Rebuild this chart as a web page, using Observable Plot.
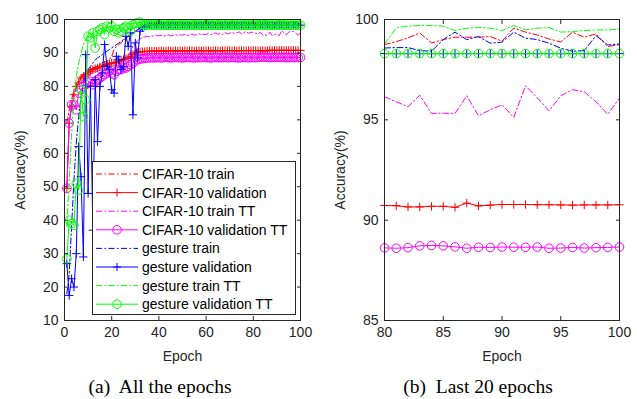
<!DOCTYPE html>
<html><head><meta charset="utf-8">
<script src="https://cdn.jsdelivr.net/npm/d3@7"></script>
<script src="https://cdn.jsdelivr.net/npm/@observablehq/plot@0.6"></script>
<style>
body{margin:0;background:#fff;}
#wrap{position:relative;width:637px;height:399px;overflow:hidden;background:#fff;font-family:"Liberation Sans",Arial,sans-serif;}
.panel{position:absolute;top:0;}
.cap{position:absolute;top:376px;line-height:21px;font-family:"Liberation Serif","Times New Roman",serif;font-size:19.5px;color:#000;white-space:pre;transform:translateX(-50%);}
#legend{position:absolute;left:92px;top:161px;}
</style></head><body>
<div id="wrap"></div>
<script>
// ---- data ----
const epochs = d3.range(1, 101);
const cifarTrain = [
 69, 73, 76, 79, 81, 82, 83, 83.5, 84, 84.5,
 85, 85.5, 85.8, 86, 86.5, 87, 87.3, 87.5, 88, 89,
 91, 92, 92.5, 93, 93.8, 94.5, 95, 95.5, 96, 96.5,
 97, 97.5, 98, 98.2, 98.4, 98.5, 98.6, 98.7, 98.8, 98.8,
 98.9, 99.0, 98.8, 99.1, 99.0, 98.9, 99.2, 99.0, 98.9, 99.1,
 99.0, 99.2, 98.9, 99.0, 99.1, 98.8, 99.0, 99.2, 99.1, 98.9,
 99.0, 99.1, 99.3, 99.0, 98.9, 99.1, 99.0, 99.2, 98.9, 99.1,
 99.0, 99.2, 99.1, 98.9, 99.0, 99.3, 99.1, 99.0, 98.9, 98.75,
 98.9, 99.08, 99.33, 98.83, 99.0, 99.12, 99.12, 99.12, 99.15, 98.92,
 99.58, 99.37, 99.23, 99.03, 98.88, 99.37, 99.12, 99.28, 98.65, 98.75];
const cifarVal = [
 49.5, 69, 74, 77.5, 80, 81, 82.5, 83, 83.5, 84,
 84.5, 85, 85.3, 85.5, 85.8, 86, 86.3, 86.5, 86.8, 87,
 87, 87.2, 87.5, 87.8, 88, 88.3, 88.6, 89, 89.5, 90,
 90.2, 90.3, 90.4, 90.4, 90.5, 90.5, 90.5, 90.6, 90.5, 90.6,
 90.6, 90.5, 90.6, 90.7, 90.6, 90.6, 90.7, 90.6, 90.7, 90.6,
 90.7, 90.6, 90.7, 90.7, 90.6, 90.7, 90.7, 90.6, 90.7, 90.7,
 90.7, 90.6, 90.7, 90.7, 90.7, 90.6, 90.7, 90.7, 90.7, 90.7,
 90.7, 90.7, 90.6, 90.7, 90.7, 90.7, 90.7, 90.7, 90.7, 90.73,
 90.72, 90.66, 90.66, 90.69, 90.69, 90.64, 90.85, 90.71, 90.75, 90.78,
 90.78, 90.78, 90.77, 90.77, 90.76, 90.75, 90.76, 90.76, 90.76, 90.77];
const cifarTrainTT = [
 50, 70, 74, 77, 79, 80.5, 81.5, 82, 82.5, 83,
 83.5, 84, 84.3, 84.5, 84.8, 85, 85.3, 85.5, 85.8, 86,
 86.2, 86.5, 86.8, 87, 87.5, 88, 89, 90.5, 92, 93,
 93.8, 94.3, 94.6, 94.8, 95, 94.9, 95.1, 95.0, 95.2, 95.1,
 95.3, 95.0, 95.2, 95.4, 95.1, 95.3, 95.5, 95.2, 95.4, 95.3,
 95.6, 95.2, 95.4, 95.7, 95.3, 95.5, 95.8, 95.4, 95.6, 95.5,
 95.9, 95.5, 95.7, 96.0, 95.6, 95.8, 95.5, 96.1, 95.7, 95.9,
 96.2, 95.8, 96.0, 96.3, 95.7, 96.1, 96.4, 95.9, 96.2, 96.15,
 95.9, 95.65, 96.23, 95.32, 95.33, 95.32, 96.2, 95.2, 95.5, 95.75,
 95.12, 96.7, 96.1, 95.45, 96.2, 96.5, 96.4, 95.9, 95.28, 96.08];
const cifarValTT = [
 49.5, 69, 74.5, 74.5, 73, 78, 79, 80, 80.5, 81,
 81.5, 80.5, 81.5, 82, 82.5, 83, 83.5, 84, 84.5, 84,
 83.5, 84.5, 85, 85, 85.5, 85.5, 86, 86.5, 87, 87.5,
 88, 88.2, 88.3, 88.4, 88.5, 88.5, 88.6, 88.5, 88.6, 88.6,
 88.5, 88.6, 88.7, 88.6, 88.5, 88.6, 88.7, 88.6, 88.6, 88.5,
 88.6, 88.7, 88.6, 88.6, 88.5, 88.7, 88.6, 88.6, 88.7, 88.6,
 88.6, 88.5, 88.6, 88.7, 88.6, 88.6, 88.6, 88.7, 88.6, 88.6,
 88.7, 88.6, 88.6, 88.5, 88.6, 88.7, 88.6, 88.6, 88.6, 88.62,
 88.6, 88.63, 88.72, 88.74, 88.72, 88.67, 88.6, 88.65, 88.64, 88.66,
 88.65, 88.65, 88.66, 88.6, 88.61, 88.64, 88.61, 88.63, 88.64, 88.66];
const gestureTrain = [
 18, 24, 38, 52, 63, 71, 77, 81, 83.5, 85,
 86, 87, 88, 88.5, 89, 89.5, 90, 90.5, 91, 91.5,
 92, 92.5, 93, 93.5, 94, 94.5, 95, 95.5, 96, 96.5,
 97, 97.5, 98, 98.3, 98.5, 98.7, 98.8, 98.9, 99.0, 98.9,
 99.1, 98.9, 99.0, 99.2, 98.8, 99.0, 99.1, 98.9, 99.2, 99.0,
 98.8, 99.1, 99.0, 98.7, 99.2, 98.9, 99.0, 99.3, 98.8, 99.0,
 99.1, 98.8, 99.2, 99.0, 98.7, 99.1, 98.9, 99.0, 99.2, 98.8,
 99.0, 99.1, 98.7, 99.0, 99.2, 98.9, 98.8, 99.1, 98.9, 98.58,
 98.6, 98.6, 98.45, 98.42, 99.0, 99.37, 99.0, 99.15, 98.82, 98.87,
 99.37, 99.07, 99.0, 98.82, 98.57, 98.42, 98.45, 99.2, 98.73, 98.78];
const gestureVal = [
 27, 17.5, 22.5, 20, 30, 62, 53, 29, 89.5, 48,
 80, 37, 82, 63.5, 80, 84, 92.5, 86, 85, 79,
 78, 89, 88, 85, 86, 95, 92, 96, 71.5, 93,
 88.5, 96.5, 97.5, 98, 98.3, 98.3, 98.2, 98.3, 98.3, 98.3,
 98.3, 98.3, 98.3, 98.3, 98.3, 98.3, 98.3, 98.3, 98.3, 98.3,
 98.3, 98.3, 98.3, 98.3, 98.3, 98.3, 98.3, 98.3, 98.3, 98.3,
 98.3, 98.3, 98.3, 98.3, 98.3, 98.3, 98.3, 98.3, 98.3, 98.3,
 98.3, 98.3, 98.3, 98.3, 98.3, 98.3, 98.3, 98.3, 98.3, 98.3,
 98.3, 98.3, 98.3, 98.3, 98.3, 98.3, 98.3, 98.3, 98.3, 98.3,
 98.3, 98.3, 98.3, 98.3, 98.3, 98.3, 98.3, 98.3, 98.3, 98.3];
const gestureTrainTT = [
 38, 52, 66, 76, 83, 87, 90, 92.5, 94, 95,
 95.5, 96, 96.3, 96.6, 97, 97.2, 97.4, 97.6, 97.8, 98,
 98.1, 98.2, 98.3, 98.4, 98.5, 98.6, 98.7, 98.8, 98.9, 99,
 99.1, 99.2, 99.3, 99.3, 99.4, 99.4, 99.5, 99.4, 99.5, 99.5,
 99.6, 99.5, 99.4, 99.6, 99.5, 99.7, 99.5, 99.4, 99.6, 99.5,
 99.5, 99.6, 99.4, 99.5, 99.7, 99.5, 99.6, 99.4, 99.5, 99.6,
 99.5, 99.7, 99.5, 99.4, 99.6, 99.5, 99.6, 99.5, 99.7, 99.4,
 99.6, 99.5, 99.5, 99.6, 99.4, 99.6, 99.5, 99.7, 99.5, 98.78,
 99.58, 99.67, 99.7, 99.7, 99.67, 99.45, 99.57, 99.6, 99.57, 99.45,
 99.7, 99.48, 99.57, 99.6, 99.37, 99.4, 99.45, 99.48, 99.48, 99.52];
const gestureValTT = [
 28.5, 40, 39, 38.5, 51, 49, 79, 71, 76, 95,
 94.5, 96, 91.5, 96.5, 97, 97.5, 95.5, 98, 97.5, 98,
 96.5, 97, 96, 96.5, 97.5, 98, 97.5, 96.5, 98.5, 98.8,
 99, 99.2, 98.6, 98.3, 98.3, 98.5, 98.3, 98.3, 98.4, 98.3,
 98.3, 98.3, 98.3, 98.3, 98.3, 98.3, 98.3, 98.3, 98.3, 98.3,
 98.3, 98.3, 98.3, 98.3, 98.3, 98.3, 98.3, 98.3, 98.3, 98.3,
 98.3, 98.3, 98.3, 98.3, 98.3, 98.3, 98.3, 98.3, 98.3, 98.3,
 98.3, 98.3, 98.3, 98.3, 98.3, 98.3, 98.3, 98.3, 98.3, 98.3,
 98.3, 98.3, 98.3, 98.3, 98.3, 98.3, 98.3, 98.3, 98.3, 98.3,
 98.3, 98.3, 98.3, 98.3, 98.3, 98.3, 98.3, 98.3, 98.3, 98.3];

const seriesNames = ["CIFAR-10 train", "CIFAR-10 validation", "CIFAR-10 train TT", "CIFAR-10 validation TT",
  "gesture train", "gesture validation", "gesture train TT", "gesture validation TT"];
const seriesValues = [cifarTrain, cifarVal, cifarTrainTT, cifarValTT, gestureTrain, gestureVal, gestureTrainTT, gestureValTT];

const xTicksA = [0, 20, 40, 60, 80, 100];
const yTicksA = [10, 20, 30, 40, 50, 60, 70, 80, 90, 100];
const xTicksB = [80, 85, 90, 95, 100];
const yTicksB = [85, 90, 95, 100];
const captions = ["(a)  All the epochs", "(b)  Last 20 epochs"];

// ---- styles ----
const colors = ["#ff0000", "#ff0000", "#ff00ff", "#ff00ff", "#0000ff", "#0000ff", "#00ff00", "#00ff00"];
const DASHDOT = "6,2.5,1.5,2.5";
const dashes = [DASHDOT, null, DASHDOT, null, DASHDOT, null, DASHDOT, null];
const markers = [null, "plus", null, "circle", null, "plus", null, "circle"];

const series = seriesNames.map((name, k) => ({
  name, color: colors[k], dash: dashes[k], marker: markers[k],
  rows: epochs.map((e, i) => ({epoch: e, value: seriesValues[k][i]}))
}));

const AX = "#262626";
const FONT = '"Liberation Sans", Arial, Helvetica, sans-serif';

function panel({xTicks, yTicks, xDomain, yDomain, minEpoch, width, marginRight}) {
  const marks = [];
  for (const s of series) {
    const rows = s.rows.filter(d => d.epoch >= minEpoch);
    marks.push(Plot.line(rows, {x: "epoch", y: "value", stroke: s.color, strokeWidth: 1,
      strokeDasharray: s.dash, clip: true}));
    if (s.marker) {
      marks.push(Plot.dot(rows, {x: "epoch", y: "value", symbol: s.marker,
        r: s.marker === "plus" ? 2.8 : 4.3, stroke: s.color, fill: "none", strokeWidth: 1}));
    }
  }
  return Plot.plot({
    width, height: 365,
    marginLeft: 64, marginRight, marginTop: 19, marginBottom: 45,
    x: {domain: xDomain}, y: {domain: yDomain},
    style: {fontFamily: FONT, fontSize: "14px", color: AX, background: "white", overflow: "visible"},
    marks: [
      ...marks,
      Plot.frame({stroke: AX, strokeWidth: 1}),
      Plot.axisX(xTicks, {anchor: "bottom", tickSize: -4, tickFormat: () => "", label: null, stroke: AX}),
      Plot.axisX(xTicks, {anchor: "top", tickSize: -4, tickFormat: () => "", label: null, stroke: AX}),
      Plot.axisY(yTicks, {anchor: "left", tickSize: -4, tickFormat: () => "", label: null, stroke: AX}),
      Plot.axisY(yTicks, {anchor: "right", tickSize: -4, tickFormat: () => "", label: null, stroke: AX}),
      Plot.axisX(xTicks, {anchor: "bottom", tickSize: 0, tickPadding: 7, label: "Epoch",
        labelAnchor: "center", labelOffset: 40, labelArrow: "none", fill: AX}),
      Plot.axisY(yTicks, {anchor: "left", tickSize: 0, tickPadding: 6, label: "Accuracy(%)",
        labelAnchor: "center", labelOffset: 49, labelArrow: "none", fill: AX})
    ]
  });
}

const wrap = document.getElementById("wrap");
const pA = panel({xTicks: xTicksA, yTicks: yTicksA, xDomain: [0, 100], yDomain: [10, 100], minEpoch: 0, width: 320, marginRight: 20});
pA.classList.add("panel"); pA.style.left = "0px";
wrap.appendChild(pA);
const pB = panel({xTicks: xTicksB, yTicks: yTicksB, xDomain: [80, 100], yDomain: [85, 100], minEpoch: 80, width: 317, marginRight: 18});
pB.classList.add("panel"); pB.style.left = "320px";
wrap.appendChild(pB);

// legend
const LW = 204, LH = 154;
const leg = d3.create("svg").attr("id", "legend").attr("width", LW).attr("height", LH);
leg.append("rect").attr("x", 0.5).attr("y", 0.5).attr("width", LW - 1).attr("height", LH - 1)
  .attr("fill", "white").attr("stroke", AX).attr("stroke-width", 1);
series.forEach((s, i) => {
  const y = 13 + i * 18.6;
  const g = leg.append("g").attr("transform", `translate(0,${y})`);
  g.append("line").attr("x1", 4).attr("x2", 46).attr("y1", 0).attr("y2", 0)
    .attr("stroke", s.color).attr("stroke-width", 1).attr("stroke-dasharray", s.dash);
  if (s.marker === "circle") g.append("circle").attr("cx", 25).attr("cy", 0).attr("r", 4.3).attr("fill", "none").attr("stroke", s.color);
  if (s.marker === "plus") g.append("path").attr("d", "M21,0H29M25,-4V4").attr("fill", "none").attr("stroke", s.color);
  g.append("text").attr("x", 50).attr("y", 0).attr("dy", "0.35em").attr("fill", "#000")
    .attr("font-family", FONT).attr("font-size", 14).text(s.name);
});
wrap.appendChild(leg.node());

captions.forEach((c, i) => {
  const d = document.createElement("div");
  d.className = "cap"; d.textContent = c;
  d.style.left = (i === 0 ? 160 : 478) + "px";
  wrap.appendChild(d);
});
</script>
</body></html>
